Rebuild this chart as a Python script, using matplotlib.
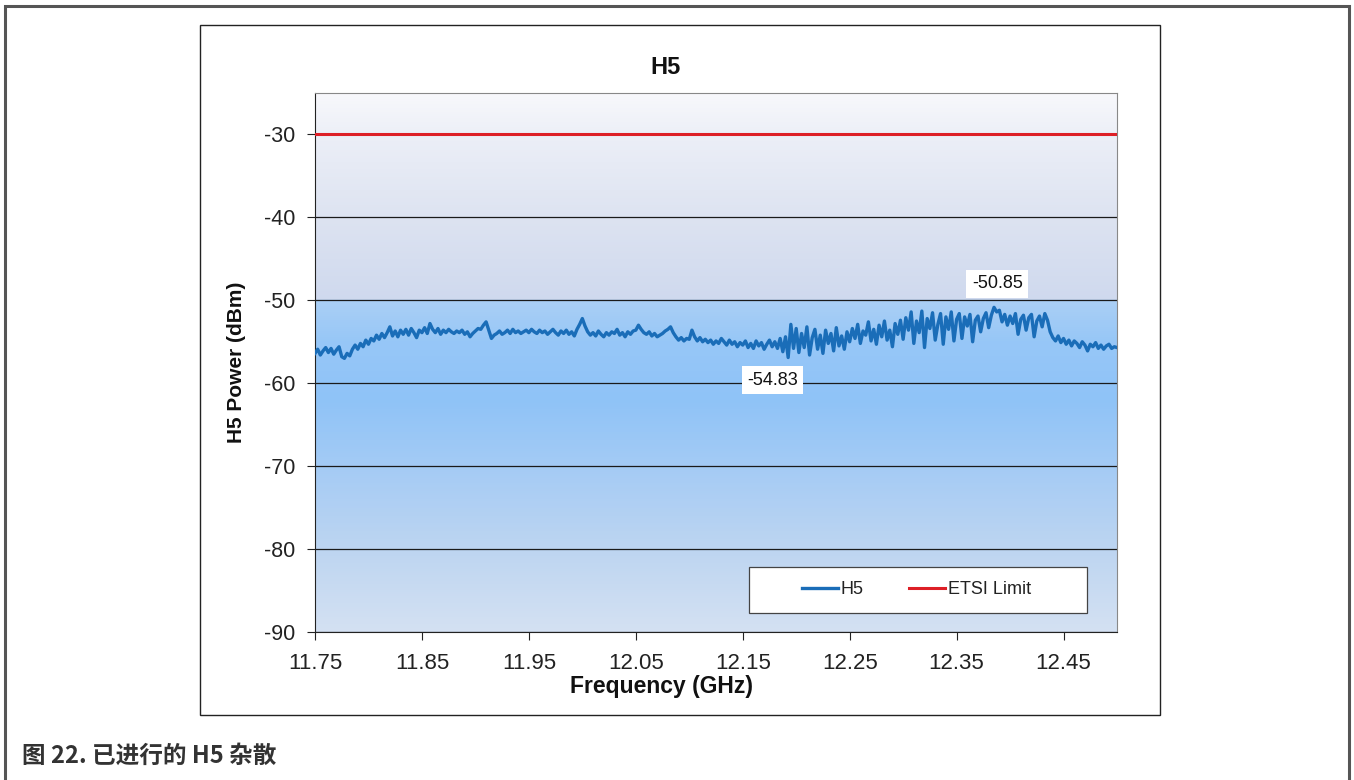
import numpy as np
import matplotlib
matplotlib.use("Agg")
import matplotlib.pyplot as plt
from matplotlib.colors import LinearSegmentedColormap
from matplotlib.patches import Rectangle

plt.rcParams["axes.unicode_minus"] = False

# frequency axis: 11.75 .. 12.50 GHz, one reading every 2.5 MHz
f_start = 11.75
f_step = 0.0025

# H5 power readings (dBm), 20 per 50 MHz
h5_rows = [
    [-56.4, -55.9, -56.6, -56.1, -55.7, -56.3, -55.8, -56.5, -56.0, -55.6, -56.8, -57.0, -56.4, -56.7, -55.9, -55.4, -55.9, -55.2, -55.6, -54.8],
    [-55.3, -54.6, -54.9, -54.2, -54.7, -54.0, -54.5, -53.9, -53.2, -54.3, -53.7, -54.4, -53.6, -54.1, -53.5, -54.2, -53.4, -53.9, -54.5, -53.6],
    [-53.9, -53.3, -54.0, -52.8, -53.5, -53.9, -53.4, -54.1, -53.6, -53.9, -53.5, -53.8, -54.0, -53.7, -53.9, -53.6, -54.1, -53.8, -54.4, -54.0],
    [-53.7, -53.4, -53.5, -53.0, -52.6, -53.6, -54.6, -54.2, -54.0, -53.7, -54.1, -53.9, -53.6, -54.0, -53.5, -53.9, -53.7, -54.0, -53.8, -53.6],
    [-53.9, -53.5, -53.8, -54.0, -53.6, -53.9, -53.7, -54.1, -53.8, -53.5, -53.9, -54.2, -53.7, -54.0, -53.6, -54.1, -53.8, -54.3, -53.5, -52.9],
    [-52.2, -53.1, -53.8, -54.2, -53.9, -54.3, -53.7, -54.1, -54.4, -53.9, -54.2, -53.8, -54.0, -53.5, -54.2, -53.9, -54.4, -53.8, -54.1, -53.7],
    [-53.6, -53.0, -53.5, -53.9, -54.1, -53.8, -54.3, -54.0, -54.4, -54.2, -54.0, -53.7, -53.5, -53.2, -53.9, -54.4, -54.8, -54.5, -54.9, -54.6],
    [-54.7, -53.6, -54.4, -54.9, -54.5, -55.0, -54.7, -55.1, -54.8, -55.3, -54.9, -55.2, -54.6, -55.0, -55.4, -54.8, -55.3, -55.0, -55.6, -55.1],
    [-55.4, -54.9, -55.7, -55.2, -55.8, -54.9, -55.5, -55.1, -55.9, -55.3, -54.8, -55.6, -55.0, -55.8, -54.6, -56.2, -54.4, -56.9, -52.9, -55.8],
    [-53.4, -56.3, -54.0, -55.7, -53.2, -56.6, -54.5, -53.5, -55.9, -54.2, -56.4, -53.6, -55.2, -54.0, -56.1, -53.3, -55.5, -54.3, -55.9, -53.8],
    [-55.0, -53.4, -54.6, -52.9, -55.2, -53.7, -54.2, -52.6, -54.9, -53.5, -55.3, -53.0, -54.4, -52.5, -54.8, -53.6, -55.6, -52.8, -54.1, -52.4],
    [-54.7, -52.1, -53.6, -51.4, -55.2, -52.5, -53.9, -51.3, -55.7, -52.2, -53.4, -51.5, -54.8, -52.9, -51.6, -55.3, -52.0, -53.5, -51.4, -54.9],
    [-52.3, -51.6, -54.6, -52.0, -53.1, -51.7, -55.0, -52.4, -51.9, -53.8, -52.2, -51.5, -53.3, -51.8, -50.85, -51.4, -51.2, -52.6, -51.7, -53.0],
    [-51.9, -52.8, -51.6, -54.1, -52.3, -51.8, -53.6, -52.1, -51.7, -54.4, -52.5, -51.9, -53.2, -51.6, -52.4, -53.8, -54.5, -54.9, -54.3, -55.1],
    [-54.6, -55.3, -54.8, -55.5, -54.9, -55.2, -55.7, -55.0, -55.4, -56.1, -55.3, -55.6, -55.1, -55.8, -55.4, -55.9, -55.5, -55.3, -55.8, -55.6],
    [-55.7],
]
h5_power = [v for row in h5_rows for v in row]
freq = [f_start + i * f_step for i in range(len(h5_power))]

etsi_limit = -30
xticks = [11.75, 11.85, 11.95, 12.05, 12.15, 12.25, 12.35, 12.45]
yticks = [-90, -80, -70, -60, -50, -40, -30]

# data labels (freq, value) shown on the chart
label_max = (12.388, -50.85)
label_min = (12.178, -54.83)

W, H = 1354, 780
fig = plt.figure(figsize=(W / 100, H / 100), dpi=100)

# page frame and chart box
fig.patches.append(Rectangle((5 / W, -0.05), 1344 / W, 1.05 - 6 / H, transform=fig.transFigure,
                             fill=False, edgecolor="#555555", linewidth=2.2))
fig.patches.append(Rectangle((200 / W, 1 - 715 / H), 960 / W, 690 / H, transform=fig.transFigure,
                             fill=False, edgecolor="#222222", linewidth=1.0))

ax = fig.add_axes([315 / W, 1 - 632 / H, 802 / W, 539 / H])

# gradient background of the plot area (stops given as dBm level, colour)
def frac(v):
    return (v + 90) / 65.0

grad_cmap = LinearSegmentedColormap.from_list("bg", [
    (frac(-90), "#d4e1f3"),
    (frac(-80), "#bdd5f1"),
    (frac(-70), "#a4cbf5"),
    (frac(-62), "#8fc3f7"),
    (frac(-55), "#97c7f7"),
    (frac(-50.05), "#aacff5"),
    (frac(-49.95), "#cfd9ee"),
    (frac(-40), "#dde3f1"),
    (frac(-30), "#ecEff7"),
    (frac(-25), "#f8f8fc"),
])
ax.imshow(np.linspace(0, 1, 1024).reshape(-1, 1), cmap=grad_cmap, origin="lower",
          extent=[11.75, 12.50, -90, -25], aspect="auto", zorder=0, interpolation="nearest")

for y in yticks:
    ax.axhline(y, color="#1a1a1a", linewidth=0.9, zorder=1)

ax.plot(freq, h5_power, color="#1a6db8", linewidth=2.4, label="H5", zorder=3)
ax.plot([11.75, 12.50], [etsi_limit, etsi_limit], color="#dd1f26", linewidth=2.2, label="ETSI Limit", zorder=3)

ax.set_xlim(11.75, 12.50)
ax.set_ylim(-90, -25)
ax.set_xticks(xticks)
ax.set_xticklabels([f"{x:.2f}" for x in xticks])
ax.set_yticks(yticks)
ax.tick_params(direction="out", length=6, width=0.8, labelsize=15.5, colors="#222222")
ax.tick_params(axis="x", labelsize=16, pad=9)
ax.tick_params(axis="y", pad=8)
for lab in ax.get_xticklabels() + ax.get_yticklabels():
    lab.set_fontfamily("Liberation Sans")
for side in ["top", "right"]:
    ax.spines[side].set_color("#888888")
for side in ["left", "bottom"]:
    ax.spines[side].set_color("#222222")

# title and x label sit centred on the chart box rather than the plot area
fig.text(665 / W, 1 - 68 / H, "H5", fontsize=17, fontweight="bold", family="Liberation Sans",
         ha="center", va="center", color="#111111")
fig.text(661 / W, 1 - 686 / H, "Frequency (GHz)", fontsize=16.5, fontweight="bold", family="Liberation Sans",
         ha="center", va="center", color="#111111")
ax.set_ylabel("H5 Power (dBm)", fontsize=15, fontweight="bold", family="Liberation Sans", labelpad=13,
              color="#111111")

box = dict(boxstyle="square,pad=0.3", facecolor="white", edgecolor="none")
ax.text(label_max[0], label_max[1] + 2.85, f"{label_max[1]:.2f}", ha="center", va="center",
        fontsize=13, family="Liberation Sans", bbox=box, zorder=5, color="#111111")
ax.text(label_min[0], label_min[1] - 4.8, f"{label_min[1]:.2f}", ha="center", va="center",
        fontsize=13, family="Liberation Sans", bbox=box, zorder=5, color="#111111")

# legend: fixed white box with the two entries centred in it
x0 = (749 - 315) / 802
y0 = (632 - 613) / 539
bw = (1087 - 749) / 802
bh = (613 - 567) / 539
ax.add_patch(Rectangle((x0, y0), bw, bh, transform=ax.transAxes, facecolor="white",
                       edgecolor="#444444", linewidth=0.9, zorder=6))
leg = ax.legend(loc="center", bbox_to_anchor=(x0 + bw / 2 - 0.002, y0 + bh / 2), ncol=2, frameon=False,
                prop={"family": "Liberation Sans", "size": 13}, handlelength=2.0, handletextpad=0.15,
                columnspacing=2.5, borderaxespad=0)
leg.set_zorder(7)
for t in leg.get_texts():
    t.set_color("#222222")

fig.text(22 / W, 1 - 756 / H, "图 22. 已进行的 H5 杂散", fontsize=17, fontweight="bold",
         family=["Noto Sans CJK SC", "DejaVu Sans"], color="#333333", va="center", ha="left")

fig.savefig("out.png", dpi=100)
